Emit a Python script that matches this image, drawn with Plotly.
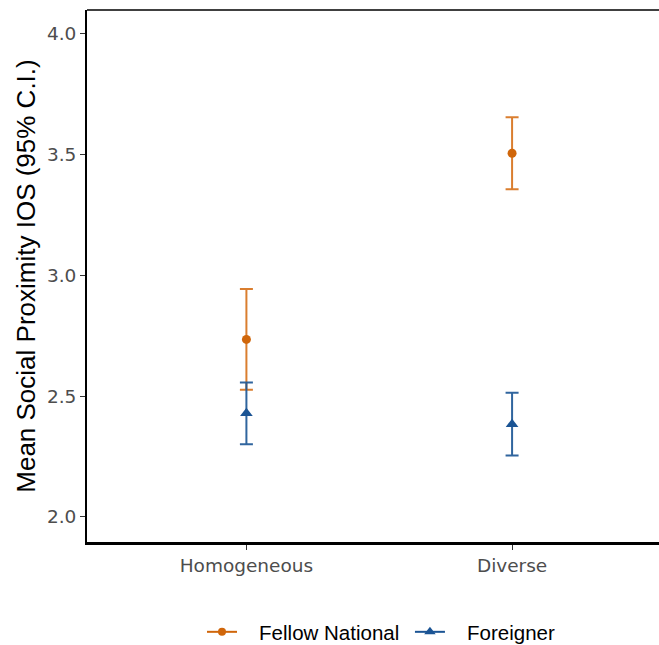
import plotly.graph_objects as go

categories = ["Homogeneous", "Diverse"]
cat_pos = [1, 2]
fellow_mean = [2.735, 3.506]
fellow_ci = [0.209, 0.149]
foreign_mean = [2.429, 2.384]
foreign_ci = [0.128, 0.130]
series_names = ["Fellow National", "Foreigner"]

orange = "#D0660A"
blue = "#1B5494"
orange_err = "rgba(214,112,24,0.9)"
blue_err = "rgba(30,88,150,0.92)"

NB = "\u00a0"

fig = go.Figure()
fig.add_trace(go.Scatter(
    x=cat_pos, y=fellow_mean, mode="markers", name=series_names[0],
    marker=dict(symbol="circle", size=9, color=orange),
    error_y=dict(type="data", array=fellow_ci, color=orange_err, thickness=2, width=6.5),
    showlegend=False,
))
fig.add_trace(go.Scatter(
    x=cat_pos, y=foreign_mean, mode="markers", name=series_names[1],
    marker=dict(symbol="triangle-up", size=11, color=blue),
    error_y=dict(type="data", array=foreign_ci, color=blue_err, thickness=2, width=6.5),
    showlegend=False,
))
# legend entries
fig.add_trace(go.Scatter(x=[None], y=[None], mode="lines+markers",
                         name=NB * 3 + series_names[0] + NB,
                         line=dict(color=orange, width=2), marker=dict(symbol="circle", size=8, color=orange)))
fig.add_trace(go.Scatter(x=[None], y=[None], mode="lines+markers",
                         name=NB * 3 + series_names[1],
                         line=dict(color=blue, width=2), marker=dict(symbol="triangle-up", size=10, color=blue)))

tick_font = dict(family="DejaVu Sans, sans-serif", size=18.5, color="#4D4D4D")

fig.update_layout(
    width=659, height=645,
    margin=dict(l=87, r=0, t=10, b=103),
    plot_bgcolor="white", paper_bgcolor="white",
    font=dict(family="Liberation Sans, Arial, sans-serif", color="black"),
    legend=dict(orientation="h", x=0.514, xanchor="center", xref="paper",
                y=1 - 632 / 645, yanchor="middle", yref="container",
                font=dict(size=20.5, color="black"), itemwidth=30),
    xaxis=dict(range=[0.4, 2.553], tickmode="array", tickvals=cat_pos, ticktext=categories,
               showgrid=False, zeroline=False, showline=True, linecolor="black", linewidth=2.5,
               ticks="outside", ticklen=5, tickcolor="#333333", tickwidth=1,
               tickfont=tick_font),
    yaxis=dict(range=[1.896, 4.099], tickvals=[2.0, 2.5, 3.0, 3.5, 4.0],
               ticktext=["2.0", "2.5", "3.0", "3.5", "4.0"],
               showgrid=False, zeroline=False, showline=True, linecolor="black", linewidth=2,
               ticks="outside", ticklen=5, tickcolor="#333333", tickwidth=1,
               tickfont=tick_font,
               title=dict(text="Mean Social Proximity IOS (95% C.I.)",
                          font=dict(size=26, color="black"), standoff=4)),
    shapes=[dict(type="line", xref="paper", yref="paper", x0=0, x1=1, y0=1, y1=1,
                 line=dict(color="black", width=1.5))],
)

fig.write_html("out.html")
